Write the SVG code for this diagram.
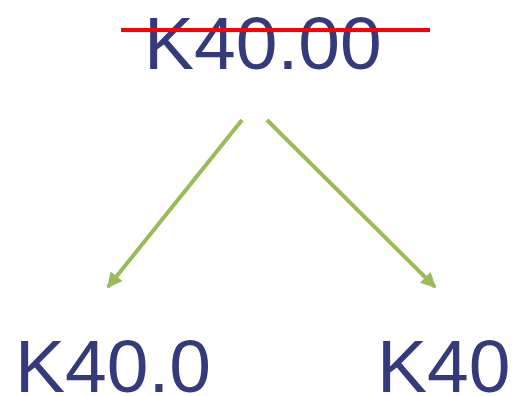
<svg xmlns="http://www.w3.org/2000/svg" width="514" height="396" viewBox="0 0 514 396">
<style>
.t{font-family:"Liberation Sans",Arial,sans-serif;font-size:75px;fill:#353a7d}
.c{stroke:#9bbb59;stroke-width:4;fill:none}
</style>
<defs>
<marker id="ah" viewBox="0 0 10 10" refX="9" refY="5" markerWidth="4.2" markerHeight="3.8" orient="auto" markerUnits="strokeWidth">
<path d="M0,0L10,5L0,10z" fill="#9bbb59"/>
</marker>
</defs>
<rect width="514" height="396" fill="#fff"/>
<g id="top">
<text class="t" x="144" y="68.5">K40.00</text>
<line x1="121" y1="30" x2="430" y2="30" stroke="#ff0000" stroke-width="4"/>
</g>
<g id="left">
<text class="t" x="15" y="391.5">K40.0</text>
</g>
<g id="right">
<text class="t" x="377" y="391.5">K40</text>
</g>
<g id="connectors">
<line class="c" x1="242" y1="120" x2="108" y2="287" marker-end="url(#ah)"/>
<line class="c" x1="267" y1="120" x2="435" y2="287" marker-end="url(#ah)"/>
</g>
</svg>
